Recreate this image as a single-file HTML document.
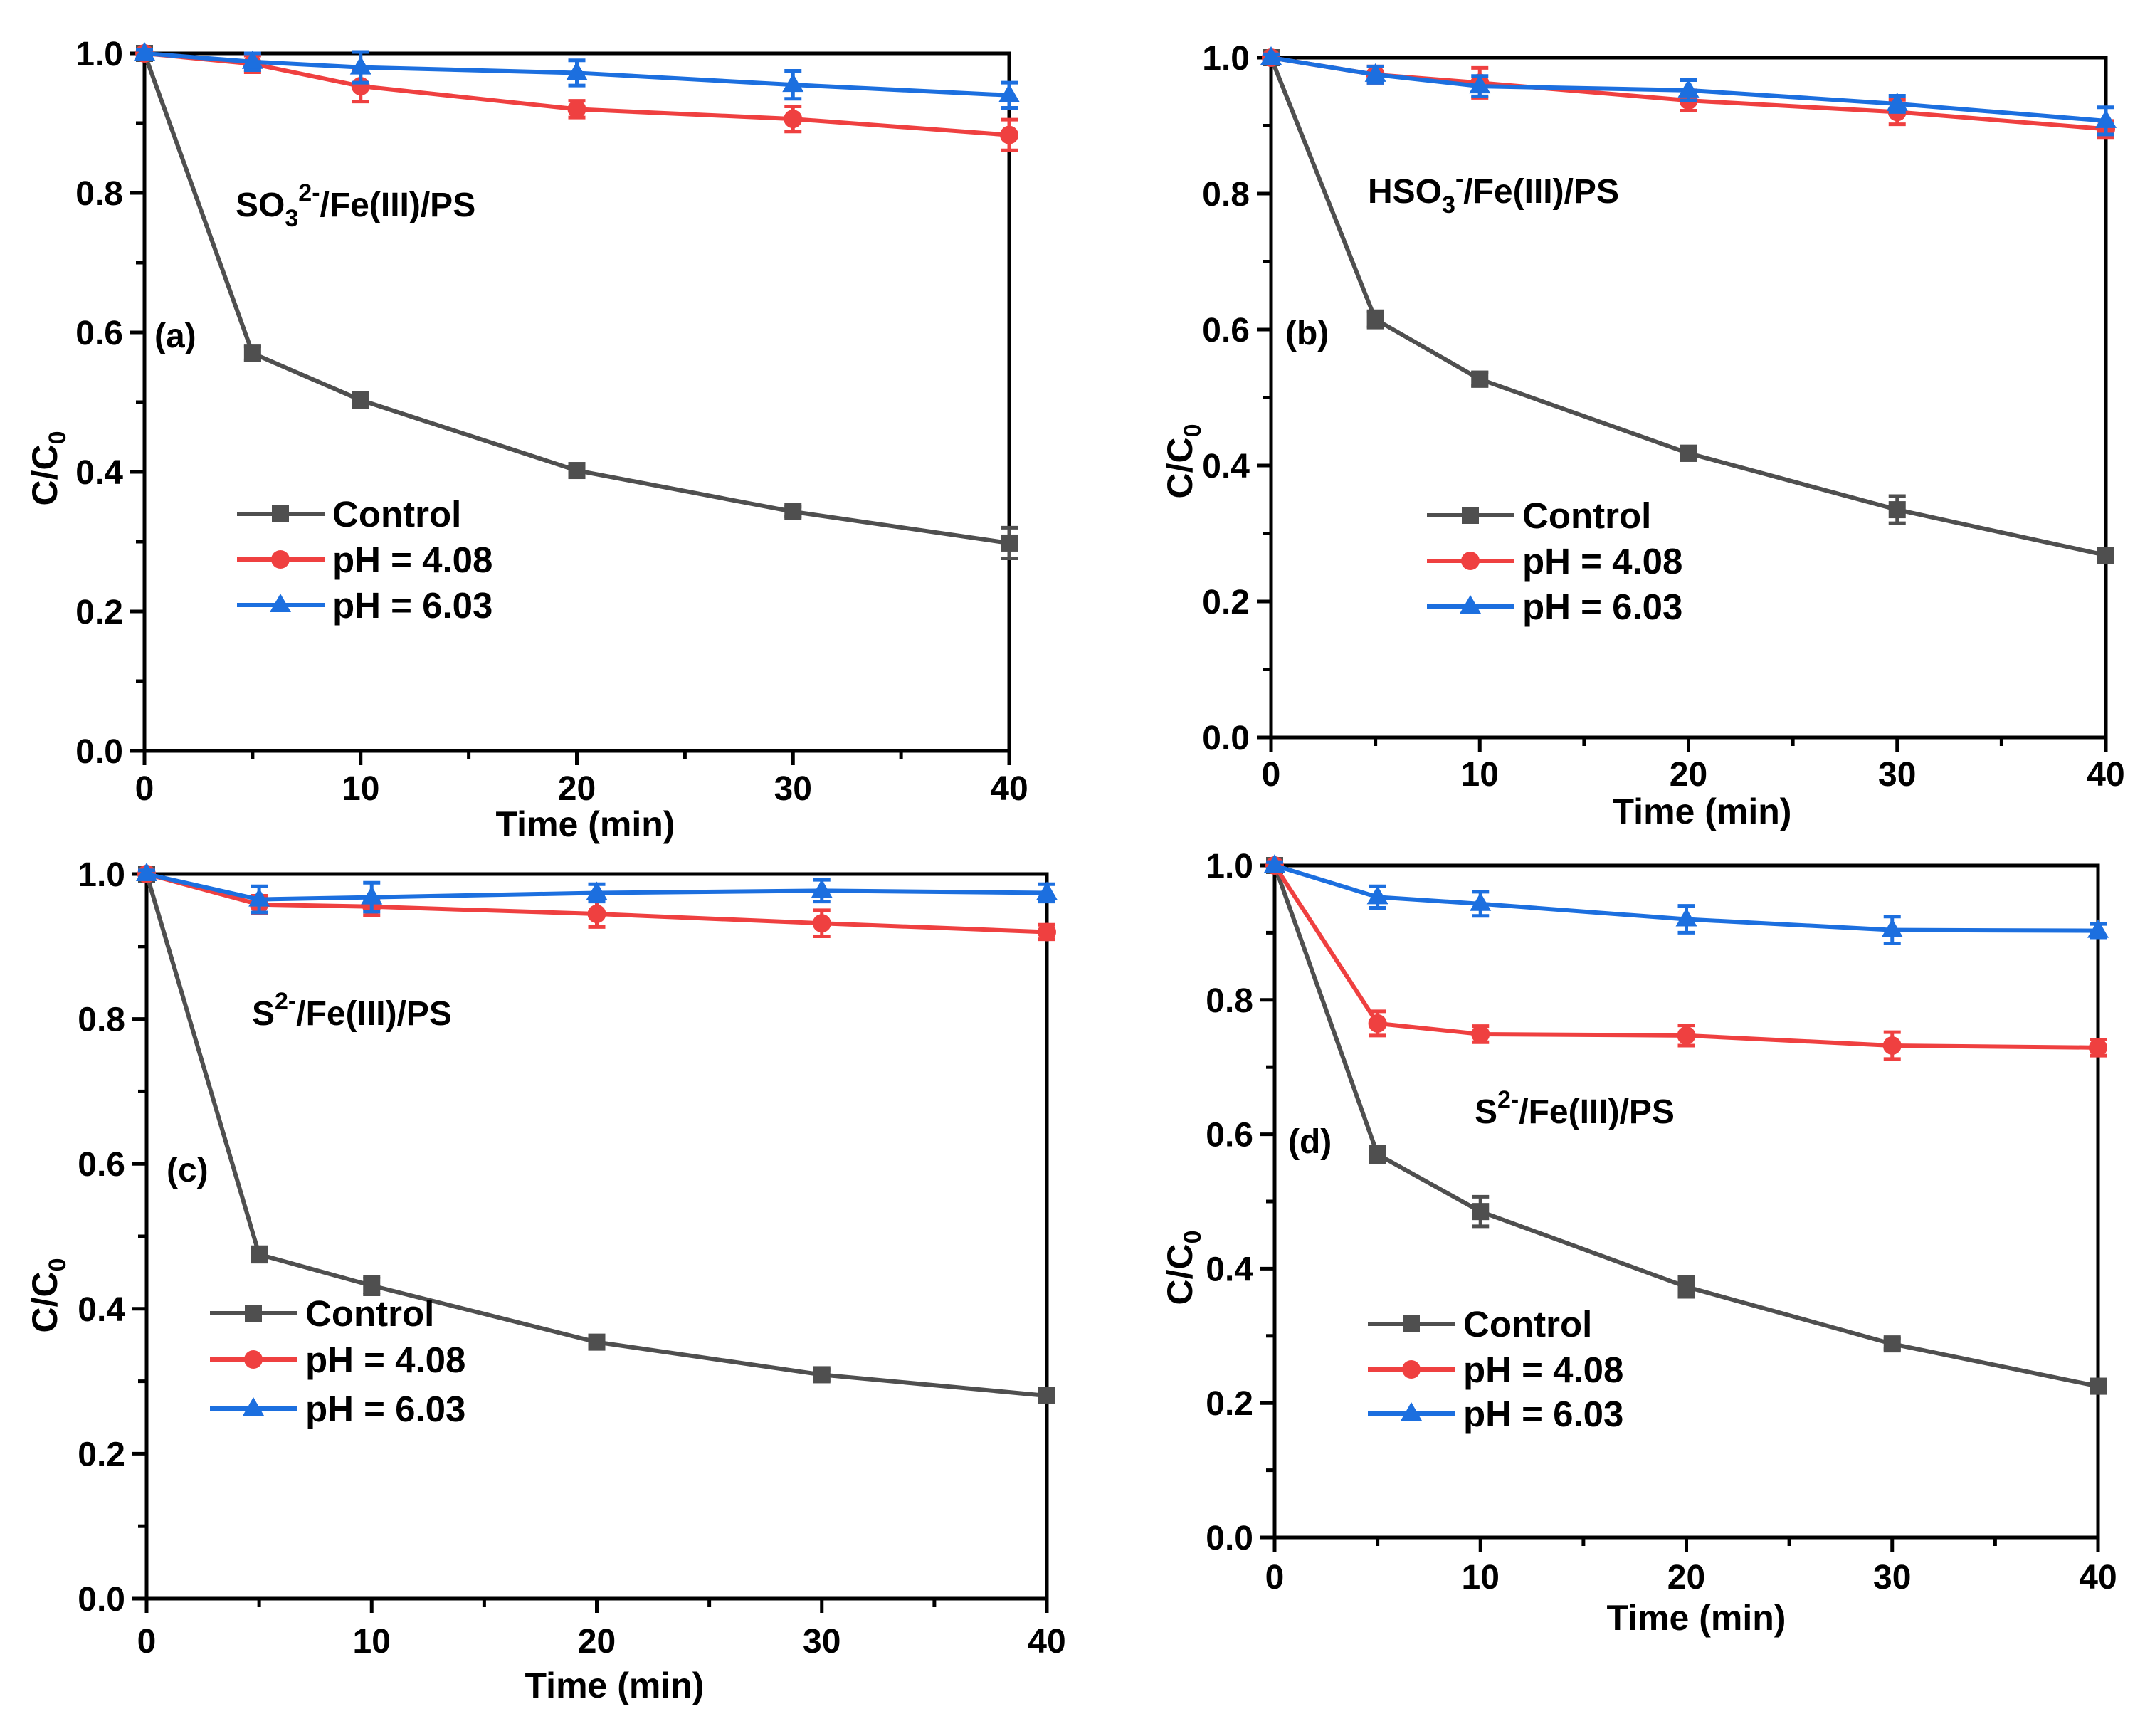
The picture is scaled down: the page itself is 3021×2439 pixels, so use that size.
<!DOCTYPE html>
<html><head><meta charset="utf-8"><style>
html,body{margin:0;padding:0;background:#fff;}
svg{display:block;font-family:"Liberation Sans",Arial,sans-serif;font-weight:bold;}
</style></head>
<body>
<svg id="fig" width="3021" height="2439" viewBox="0 0 3021 2439"></svg>
<script>
// ---- data ----
const times = [0, 5, 10, 20, 30, 40];
const xTicks = [0, 10, 20, 30, 40];
const yTicks = [0.0, 0.2, 0.4, 0.6, 0.8, 1.0];
const yTickLabels = ["0.0", "0.2", "0.4", "0.6", "0.8", "1.0"];
const seriesNames = ["Control", "pH = 4.08", "pH = 6.03"];

const aControl = [1, 0.570, 0.503, 0.402, 0.343, 0.298];
const aPH408  = [1, 0.985, 0.953, 0.920, 0.906, 0.883];
const aPH603  = [1, 0.988, 0.980, 0.972, 0.955, 0.940];
const aErr = [[0.005,0.01,0.01,0.008,0.007,0.022],[0.005,0.012,0.022,0.012,0.018,0.022],[0.005,0.012,0.022,0.018,0.02,0.018]];

const bControl = [1, 0.615, 0.527, 0.418, 0.335, 0.268];
const bPH408  = [1, 0.975, 0.963, 0.937, 0.920, 0.895];
const bPH603  = [1, 0.975, 0.958, 0.952, 0.932, 0.907];
const bErr = [[0.005,0.012,0.01,0.01,0.02,0.01],[0.005,0.012,0.022,0.015,0.018,0.012],[0.005,0.012,0.015,0.015,0.012,0.02]];

const cControl = [1, 0.475, 0.432, 0.354, 0.309, 0.280];
const cPH408  = [1, 0.958, 0.955, 0.945, 0.932, 0.920];
const cPH603  = [1, 0.965, 0.968, 0.974, 0.977, 0.974];
const cErr = [[0.005,0.01,0.012,0.008,0.007,0.007],[0.005,0.012,0.012,0.018,0.018,0.01],[0.005,0.018,0.02,0.012,0.015,0.012]];

const dControl = [1, 0.570, 0.485, 0.373, 0.288, 0.225];
const dPH408  = [1, 0.765, 0.749, 0.747, 0.732, 0.729];
const dPH603  = [1, 0.953, 0.943, 0.920, 0.904, 0.903];
const dErr = [[0.005,0.012,0.022,0.015,0.008,0.01],[0.005,0.018,0.012,0.015,0.02,0.012],[0.005,0.016,0.018,0.02,0.02,0.01]];

const colors = ["#4f4f4f", "#ef4040", "#1c6fdf"];
const NS = "http://www.w3.org/2000/svg";
const svg = document.getElementById("fig");

function el(tag, attrs, parent) {
  const e = document.createElementNS(NS, tag);
  for (const k in attrs) e.setAttribute(k, attrs[k]);
  (parent || svg).appendChild(e);
  return e;
}

const panels = [
  {id:"a", x0:203, x1:1418, y0:1055, y1:75, series:[aControl,aPH408,aPH603], err:aErr,
   title:["SO","3","2-","/Fe(III)/PS"], tx:331, ty:304, lx:217, ly:488, legY:[722,786,850], legX:333,
   ylx:62, yly:658, xtY:1175, tickY:1124, xtShift:12},
  {id:"b", x0:1786, x1:2959, y0:1036, y1:81, series:[bControl,bPH408,bPH603], err:bErr,
   title:["HSO","3","-","/Fe(III)/PS"], tx:1922, ty:285, lx:1806, ly:484, legY:[724,788,852], legX:2005,
   ylx:1657, yly:648, xtY:1157, tickY:1104, xtShift:19},
  {id:"c", x0:206, x1:1471, y0:2246, y1:1228, series:[cControl,cPH408,cPH603], err:cErr,
   title:["S","","2-","/Fe(III)/PS"], tx:354, ty:1440, lx:234, ly:1660, legY:[1845,1910,1979], legX:295,
   ylx:62, yly:1820, xtY:2385, tickY:2322, xtShift:25},
  {id:"d", x0:1791, x1:2948, y0:2160, y1:1216, series:[dControl,dPH408,dPH603], err:dErr,
   title:["S","","2-","/Fe(III)/PS"], tx:2072, ty:1578, lx:1810, ly:1620, legY:[1860,1924,1986], legX:1922,
   ylx:1657, yly:1781, xtY:2290, tickY:2232, xtShift:14}
];

function marker(g, k, x, y) {
  let m;
  if (k === 0) m = el("rect", {x:x-12, y:y-12, width:24, height:24, fill:colors[0]}, g);
  else if (k === 1) m = el("circle", {cx:x, cy:y, r:13, fill:colors[1]}, g);
  else m = el("polygon", {points:`${x},${y-16} ${x+15},${y+10} ${x-15},${y+10}`, fill:colors[2]}, g);
  return m;
}

panels.forEach(p => {
  const g = el("g", {});
  
  
  const sx = v => p.x0 + (v - 0) / 40 * (p.x1 - p.x0);
  const sy = v => p.y0 - v * (p.y0 - p.y1);

  const frame = el("rect", {x:p.x0, y:p.y1, width:p.x1-p.x0, height:p.y0-p.y1, fill:"none", stroke:"#000", "stroke-width":5}, g);
  
  

  for (let i = 0; i <= 10; i++) {
    const v = i / 10, y = sy(v), major = i % 2 === 0;
    el("line", {x1:p.x0 - (major ? 20 : 12), x2:p.x0, y1:y, y2:y, stroke:"#000", "stroke-width":5}, g);
  }
  yTicks.forEach((v, i) => {
    const t = el("text", {x:p.x0 - 30, y:sy(v) + 17, "text-anchor":"end", "font-size":48}, g);
    t.textContent = yTickLabels[i];
    
    
  });
  for (let v = 0; v <= 40; v += 5) {
    const x = sx(v), major = v % 10 === 0;
    el("line", {x1:x, x2:x, y1:p.y0, y2:p.y0 + (major ? 20 : 12), stroke:"#000", "stroke-width":5}, g);
  }
  xTicks.forEach(v => {
    const t = el("text", {x:sx(v), y:p.tickY, "text-anchor":"middle", "font-size":48}, g);
    t.textContent = String(v);
    
    
  });
  const xt = el("text", {x:(p.x0+p.x1)/2 + p.xtShift, y:p.xtY, "text-anchor":"middle", "font-size":50}, g);
  xt.textContent = "Time (min)";
  
  
  const yt = el("text", {transform:`translate(${p.ylx+18},${p.yly}) rotate(-90)`, "text-anchor":"middle", "font-size":50}, g);
  yt.innerHTML = 'C/C<tspan font-size="34" dy="12">0</tspan>';
  
  

  const tt = el("text", {x:p.tx, y:p.ty, "font-size":48}, g);
  tt.innerHTML = `${p.title[0]}<tspan font-size="34" dy="14">${p.title[1]}</tspan><tspan font-size="34" dy="${p.title[1] ? -36 : -22}">${p.title[2]}</tspan><tspan dy="22">${p.title[3]}</tspan>`;
  
  
  const lt = el("text", {x:p.lx, y:p.ly, "font-size":48}, g);
  lt.textContent = "(" + p.id + ")";
  
  

  p.series.forEach((vals, k) => {
    const sg = el("g", {}, g);
    
    
    const pts = times.map((t, i) => `${sx(t)},${sy(vals[i])}`).join(" ");
    el("polyline", {points:pts, fill:"none", stroke:colors[k], "stroke-width":6, "stroke-linejoin":"round"}, sg);
    times.forEach((t, i) => {
      const x = sx(t), e = p.err[k][i];
      const ya = sy(vals[i] + e), yb = sy(vals[i] - e);
      el("line", {x1:x, x2:x, y1:ya, y2:yb, stroke:colors[k], "stroke-width":5}, sg);
      el("line", {x1:x-12, x2:x+12, y1:ya, y2:ya, stroke:colors[k], "stroke-width":5}, sg);
      el("line", {x1:x-12, x2:x+12, y1:yb, y2:yb, stroke:colors[k], "stroke-width":5}, sg);
      const m = marker(sg, k, x, sy(vals[i]));
      
      
    });
  });

  seriesNames.forEach((name, k) => {
    const lg = el("g", {}, g);
    
    
    const y = p.legY[k];
    el("line", {x1:p.legX, x2:p.legX+123, y1:y, y2:y, stroke:colors[k], "stroke-width":6}, lg);
    marker(lg, k, p.legX + 61, y);
    const t = el("text", {x:p.legX + 134, y:y + 18, "font-size":51}, lg);
    t.textContent = name;
  });
});
</script>
</body></html>
